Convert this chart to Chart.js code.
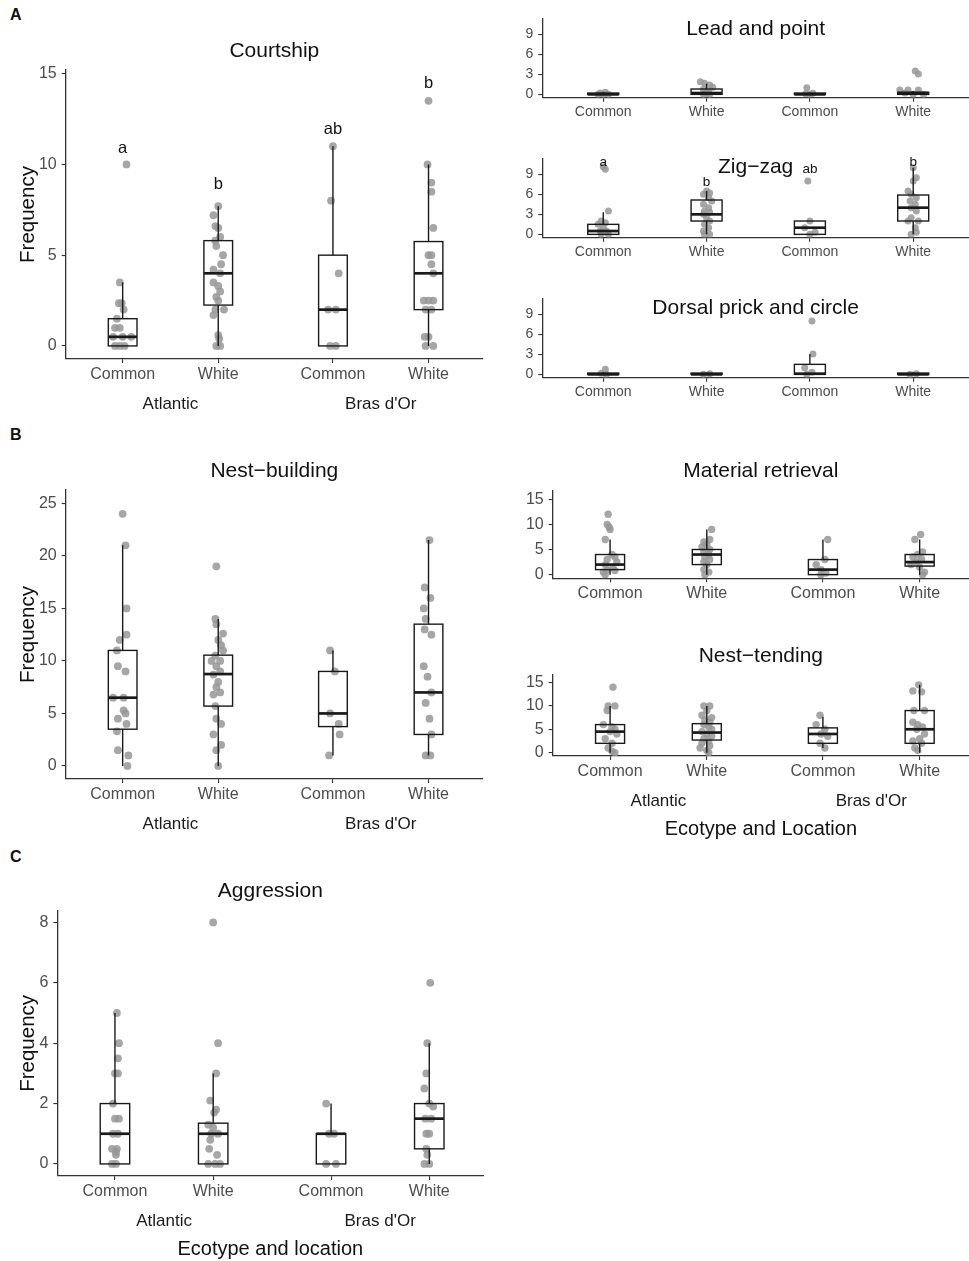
<!DOCTYPE html>
<html>
<head>
<meta charset="utf-8">
<script src="https://cdn.jsdelivr.net/npm/chart.js@4.4.0/dist/chart.umd.min.js"></script>
<style>
  body { margin: 0; background: #fff; width: 969px; height: 1261px; position: relative; overflow: hidden;
         font-family: 'Liberation Sans', Arial, sans-serif; }
  canvas { position: absolute; }
  .tag { position: absolute; font-weight: bold; font-size: 16px; color: #111; }
</style>
</head>
<body>
<div class="tag" style="left:10px;top:6px">A</div>
<div class="tag" style="left:10px;top:426px">B</div>
<div class="tag" style="left:10px;top:848px">C</div>

<canvas id="courtship"></canvas>
<canvas id="lead"></canvas>
<canvas id="zigzag"></canvas>
<canvas id="dorsal"></canvas>
<canvas id="nestbuilding"></canvas>
<canvas id="material"></canvas>
<canvas id="tending"></canvas>
<canvas id="aggression"></canvas>

<script>
// categories shared by every panel
const categories = ['Common', 'White', 'Common', 'White'];
const locations = ['Atlantic', "Bras d'Or"];

// box stats per group: [whisker low, q1, median, q3, whisker high]
// points per group: [jitter, value]

// --- Courtship
const courtshipTicks = [0, 5, 10, 15];
const courtshipBoxes = [[0, 0, 0.5, 1.5, 3.5], [0, 2.25, 4, 5.8, 7.7], [0, 0, 2, 5, 11], [0, 2, 4, 5.75, 10]];
const courtshipPoints = [
  [[0.04, 10], [-0.03, 3.5], [-0.04, 2.35], [-0.01, 2.35], [0.01, 2], [-0.06, 1.5], [-0.08, 1], [-0.03, 1],
   [-0.1, 0.5], [0, 0.5], [0.09, 0.5], [-0.08, 0], [-0.03, 0], [0.02, 0]],
  [[0, 7.7], [-0.05, 7.2], [-0.03, 6.6], [0, 6.5], [0.02, 6], [-0.03, 5.8], [-0.02, 5.5], [0.05, 5], [0.03, 4.5],
   [-0.05, 4.2], [0.02, 4], [-0.05, 3.5], [0, 3.3], [0.02, 3], [-0.02, 2.7], [0, 2.5], [-0.03, 2], [0.06, 2],
   [-0.05, 1.7], [0, 0.6], [0.01, 0.4], [-0.02, 0], [0.02, 0]],
  [[0, 11], [-0.02, 8], [0.06, 4], [-0.05, 2], [0.03, 2], [-0.03, 0], [0.03, 0]],
  [[0, 13.5], [-0.01, 10], [0.03, 9], [0.03, 8.5], [0.05, 6.5], [0, 5], [0.03, 5], [0.03, 4.5], [0.05, 4],
   [-0.05, 2.5], [0, 2.5], [0.05, 2.5], [-0.03, 2], [0.03, 2], [-0.04, 0.5], [0, 0.5], [-0.03, 0], [0.05, 0]]
];
const courtshipLetters = ['a', 'b', 'ab', 'b'];
const courtshipLetterY = [10.9, 8.9, 11.95, 14.45];

// --- Lead and point
const smallTicks = [0, 3, 6, 9];
const leadBoxes = [[0, 0, 0, 0.2, 0.3], [0, 0, 0.2, 0.8, 1.6], [0, 0, 0, 0.2, 0.3], [0, 0, 0.2, 0.3, 0.5]];
const leadPoints = [
  [[-0.05, 0], [0, 0], [0.05, 0], [0.02, 0.3], [-0.03, 0.2]],
  [[-0.06, 1.9], [-0.02, 1.65], [0.03, 1.4], [0.06, 1.05], [-0.03, 0.75], [0.02, 0.4], [-0.03, 0], [0.03, 0], [0, 0.15]],
  [[-0.03, 1], [0, 0], [0.03, 0.15], [-0.04, 0.1]],
  [[0.02, 3.5], [0.05, 3.05], [-0.13, 0.65], [-0.05, 0.65], [0.05, 0.65], [0, 0], [0.1, 0], [-0.08, 0.2]]
];

// --- Zig-zag
const zigBoxes = [[0, 0, 0.5, 1.5, 3.3], [0, 2, 3, 5.15, 6.5], [0, 0, 1, 2, 2], [0, 2, 4, 5.9, 10]];
const zigPoints = [
  [[0, 10.15], [0.02, 9.75], [0.05, 3.5], [-0.02, 2], [0.02, 1.75], [-0.05, 1.5], [0, 1], [-0.03, 0.5], [0.03, 0.5],
   [-0.02, 0], [0.05, 0]],
  [[0, 6.5], [0.03, 6.2], [-0.03, 6], [0.02, 5.5], [0.05, 5], [-0.03, 4.5], [0.02, 4], [-0.02, 3.5], [0.03, 3.3],
   [-0.03, 3], [0, 2.5], [0.03, 2], [-0.02, 1.5], [0.02, 1], [-0.03, 0.5], [-0.02, 0], [0.03, 0]],
  [[-0.02, 8], [0, 2], [-0.05, 1], [0.05, 0.3], [0, 0]],
  [[0, 10], [0.03, 8.5], [0, 8], [-0.05, 6.5], [-0.02, 6], [0.03, 5.5], [-0.03, 5], [0.02, 4.5], [-0.02, 4],
   [0.03, 3.5], [-0.02, 2.5], [-0.05, 2], [0.05, 2], [0.02, 1], [0.03, 0.3], [-0.02, 0]]
];
const zigLetters = ['a', 'b', 'ab', 'b'];
const zigLetterY = [10.75, 7.75, 9.75, 10.75];

// --- Dorsal prick and circle
const dorsalBoxes = [[0, 0, 0, 0.2, 0.3], [0, 0, 0, 0.2, 0.3], [0, 0, 0.1, 1.5, 3], [0, 0, 0, 0.2, 0.3]];
const dorsalPoints = [
  [[0.02, 0.75], [-0.02, 0.15], [0.03, 0]],
  [[-0.03, 0], [0.03, 0.1]],
  [[0.02, 8], [0.03, 3.05], [-0.05, 1], [0.02, 0.3], [-0.03, 0]],
  [[-0.03, 0], [0.03, 0.1]]
];

// --- Nest-building
const nestTicks = [0, 5, 10, 15, 20, 25];
const nestBoxes = [[0, 3.5, 6.5, 11, 21], [0, 5.7, 8.75, 10.55, 14], [1, 3.75, 5, 9, 11], [1, 3, 7, 13.5, 21.5]];
const nestPoints = [
  [[0, 24], [0.03, 21], [0.04, 15], [0.04, 12.5], [-0.03, 12], [-0.06, 11], [-0.05, 9.5], [0.03, 9], [-0.1, 6.5],
   [0.01, 6.5], [0.01, 5.3], [0.03, 5], [-0.05, 4.5], [0.04, 4], [-0.06, 3.3], [-0.05, 1.5], [0.06, 1], [0.05, 0]],
  [[-0.02, 19], [-0.03, 14], [-0.02, 13.5], [0.05, 12.6], [0, 12], [0.03, 11.5], [0.05, 11], [-0.03, 10.5],
   [-0.07, 10], [0.02, 10], [-0.02, 9.5], [0.02, 9], [-0.05, 8.7], [0, 8], [-0.02, 7.5], [0.02, 7], [-0.05, 6.8],
   [-0.03, 5.7], [-0.02, 4.5], [0.03, 4], [-0.05, 3], [0.03, 2], [-0.02, 1.5], [0, 0]],
  [[-0.03, 11], [0.02, 9], [-0.03, 5], [0.06, 4], [0.07, 3], [-0.04, 1]],
  [[0.01, 21.5], [-0.04, 17], [0.02, 16], [-0.05, 15], [-0.03, 14], [-0.04, 13], [0.03, 12.5], [-0.05, 9.5],
   [-0.01, 8.5], [0.03, 7], [-0.03, 6], [0.01, 4.5], [0.03, 3], [-0.03, 1], [0.02, 1]]
];

// --- Material retrieval
const midTicks = [0, 5, 10, 15];
const materialBoxes = [[0, 1, 2, 4, 7], [0, 2, 4, 5, 9], [0, 0, 1, 3, 7], [0, 1.7, 2.5, 4, 7]];
const materialPoints = [
  [[-0.02, 12], [-0.03, 10], [-0.01, 9.5], [0, 9], [-0.05, 7], [0.02, 4], [0.05, 3.5], [-0.03, 3], [0.07, 2.5],
   [-0.05, 2], [0.03, 1.5], [-0.03, 1], [0.05, 0.8], [-0.07, 0.5], [-0.05, 0]],
  [[0.05, 9], [0.03, 7], [-0.03, 6.5], [0, 6], [-0.05, 5.5], [0.03, 5], [-0.03, 4.5], [0.02, 4], [-0.02, 3.5],
   [0.03, 3], [-0.03, 2.5], [0, 2], [-0.03, 1], [0.02, 0.5], [-0.02, 0]],
  [[0.05, 7], [0.02, 3], [-0.07, 2], [-0.02, 1], [0.03, 0.3], [-0.02, 0]],
  [[0.01, 8], [-0.05, 7], [0.03, 4.5], [-0.02, 4], [-0.07, 3.5], [0.02, 3], [-0.03, 2.5], [-0.09, 2], [0, 1.5],
   [0.05, 0.5], [0.03, 0]]
];

// --- Nest-tending
const tendingBoxes = [[0, 2, 4.5, 6, 10], [0, 2.7, 4.3, 6.2, 10], [1, 2, 4, 5.3, 7.7], [0, 2, 5, 9, 14.5]];
const tendingPoints = [
  [[0.03, 14], [0.05, 10], [-0.02, 10], [-0.03, 9], [-0.07, 6], [0.02, 5.5], [0.05, 5], [0, 4.5], [0.07, 4],
   [-0.05, 3], [0.02, 2], [-0.02, 1], [0.02, 0.3], [0.05, 0]],
  [[-0.03, 10], [0.03, 10], [0, 9], [-0.05, 8], [0.05, 7.5], [-0.02, 7], [0.03, 6.5], [-0.03, 6], [0.02, 5.5],
   [0.05, 5], [-0.05, 4.5], [0, 4], [0.05, 3.5], [-0.03, 3], [0.02, 2.5], [-0.05, 2], [0.03, 1.5], [-0.07, 1],
   [0, 0.5], [0.02, 0]],
  [[-0.03, 8], [-0.07, 6], [0.02, 5], [-0.02, 4], [0.05, 3.5], [-0.03, 2], [0.02, 1]],
  [[-0.01, 14.5], [-0.07, 13.2], [0.02, 13], [0.05, 9], [-0.06, 9], [-0.07, 6.5], [-0.02, 6], [0.03, 5.5],
   [-0.03, 5], [0.05, 4], [0, 3], [-0.07, 2.5], [0.02, 2], [-0.05, 1], [-0.02, 0.5]]
];

// --- Aggression
const aggressionTicks = [0, 2, 4, 6, 8];
const aggressionBoxes = [[0, 0, 1, 2, 5], [0, 0, 1, 1.35, 3], [0, 0, 1, 1, 2], [0, 0.5, 1.5, 2, 4]];
const aggressionPoints = [
  [[0.02, 5], [0.04, 4], [0.03, 3.5], [0, 3], [0.03, 3], [-0.02, 2], [0, 1.5], [0.04, 1.5], [-0.02, 1], [0.03, 1],
   [-0.03, 0.5], [0.02, 0.5], [0.01, 0.4], [0.01, 0.3], [-0.03, 0], [0.01, 0]],
  [[0, 8], [0.05, 4], [0.03, 3], [-0.03, 2.1], [0.03, 1.8], [0.01, 1.7], [-0.05, 1.3], [0, 1.2], [0.05, 1],
   [-0.02, 1], [-0.03, 0.8], [-0.04, 0.5], [0.04, 0.3], [-0.05, 0], [0.02, 0], [0.07, 0]],
  [[-0.05, 2], [-0.02, 1], [0.03, 1], [-0.05, 0], [0.05, 0]],
  [[0.01, 6], [-0.02, 4], [-0.03, 3], [-0.05, 2.5], [0, 2], [0.04, 1.9], [-0.04, 1.5], [0.02, 1.5], [-0.03, 1],
   [0, 1], [-0.03, 0.5], [-0.02, 0.3], [-0.05, 0], [0, 0]]
];

// layout of each panel (page pixels), kept apart from the data
const splitPos = [1, 2, 3.2, 4.2];
const evenPos = [1, 2, 3, 4];

const panels = [
  { id: 'courtship', title: 'Courtship', left: 0, top: 30, width: 490, height: 400, area: [65.7, 70, 483, 359],
    x: [0.404, 4.77], y: [-0.72, 15.2], pos: splitPos, ticks: courtshipTicks, boxes: courtshipBoxes,
    points: courtshipPoints, letters: courtshipLetters, letterY: courtshipLetterY, letterFont: 16.5,
    tickFont: 16, dot: 3.9, titleY: 51.5, groups: true, yTitle: 'Frequency' },
  { id: 'lead', title: 'Lead and point', left: 490, top: 0, width: 479, height: 140, area: [542.3, 18.3, 969, 97.7],
    x: [0.41, 4.54], y: [-0.5, 11.4], pos: evenPos, ticks: smallTicks, boxes: leadBoxes, points: leadPoints,
    tickFont: 14, dot: 3.5, titleY: 29 },
  { id: 'zigzag', title: 'Zig\u2212zag', left: 490, top: 140, width: 479, height: 140, area: [542.3, 158.3, 969, 237.7],
    x: [0.41, 4.54], y: [-0.5, 11.4], pos: evenPos, ticks: smallTicks, boxes: zigBoxes, points: zigPoints,
    letters: zigLetters, letterY: zigLetterY, letterFont: 13.5, tickFont: 14, dot: 3.5, titleY: 167 },
  { id: 'dorsal', title: 'Dorsal prick and circle', left: 490, top: 280, width: 479, height: 140,
    area: [542.3, 298.3, 969, 377.7], x: [0.41, 4.54], y: [-0.5, 11.4], pos: evenPos, ticks: smallTicks,
    boxes: dorsalBoxes, points: dorsalPoints, tickFont: 14, dot: 3.5, titleY: 308.7 },
  { id: 'nestbuilding', title: 'Nest\u2212building', left: 0, top: 440, width: 490, height: 400,
    area: [65.7, 490, 483, 779], x: [0.404, 4.77], y: [-1.24, 26.27], pos: splitPos, ticks: nestTicks,
    boxes: nestBoxes, points: nestPoints, tickFont: 16, dot: 3.9, titleY: 471.7, groups: true, yTitle: 'Frequency' },
  { id: 'material', title: 'Material retrieval', left: 490, top: 440, width: 479, height: 180,
    area: [552.7, 490.7, 969, 578.3], x: [0.407, 4.71], y: [-0.73, 16.7], pos: splitPos, ticks: midTicks,
    boxes: materialBoxes, points: materialPoints, tickFont: 16, dot: 3.7, titleY: 471.7 },
  { id: 'tending', title: 'Nest\u2212tending', left: 490, top: 620, width: 479, height: 230,
    area: [552.7, 675, 969, 756], x: [0.407, 4.71], y: [-0.71, 16.6], pos: splitPos, ticks: midTicks,
    boxes: tendingBoxes, points: tendingPoints, tickFont: 16, dot: 3.7, titleY: 656.3, groups: true,
    xTitle: 'Ecotype and Location' },
  { id: 'aggression', title: 'Aggression', left: 0, top: 860, width: 490, height: 401,
    area: [57.3, 910.7, 483.3, 1176], x: [0.413, 4.75], y: [-0.4, 8.39], pos: splitPos, ticks: aggressionTicks,
    boxes: aggressionBoxes, points: aggressionPoints, tickFont: 16, dot: 3.9, titleY: 890.8, groups: true,
    xTitle: 'Ecotype and location', yTitle: 'Frequency' }
];

const FONT = "'Liberation Sans', Arial, sans-serif";
Chart.defaults.font.family = FONT;

function overlay(p) {
  return {
    id: 'overlay_' + p.id,
    afterDatasetsDraw(chart) {
      const { ctx, scales: { x, y } } = chart;
      ctx.save();
      ctx.strokeStyle = '#1a1a1a';
      p.boxes.forEach((b, i) => {
        const cx = x.getPixelForValue(p.pos[i]);
        const hw = x.getPixelForValue(p.pos[i] + 0.15) - cx;
        const [lo, q1, med, q3, hi] = b.map(v => y.getPixelForValue(v));
        ctx.lineWidth = 1.4;
        ctx.beginPath();
        ctx.moveTo(cx, q3); ctx.lineTo(cx, hi);
        ctx.moveTo(cx, q1); ctx.lineTo(cx, lo);
        ctx.stroke();
        ctx.strokeRect(cx - hw, q3, 2 * hw, q1 - q3);
        ctx.lineWidth = 2.7;
        ctx.beginPath();
        ctx.moveTo(cx - hw, med); ctx.lineTo(cx + hw, med);
        ctx.stroke();
      });
      if (p.letters) {
        ctx.fillStyle = '#111';
        ctx.font = p.letterFont + 'px ' + FONT;
        ctx.textAlign = 'center';
        ctx.textBaseline = 'middle';
        p.letters.forEach((t, i) => {
          ctx.fillText(t, x.getPixelForValue(p.pos[i]), y.getPixelForValue(p.letterY[i]));
        });
      }
      ctx.restore();
    },
    afterDraw(chart) {
      const { ctx, chartArea: a, scales: { x } } = chart;
      ctx.save();
      ctx.textAlign = 'center';
      ctx.textBaseline = 'middle';
      ctx.fillStyle = '#111';
      ctx.font = '21px ' + FONT;
      ctx.fillText(p.title, (a.left + a.right) / 2, p.titleY - p.top);
      if (p.groups) {
        ctx.font = '17px ' + FONT;
        ctx.fillStyle = '#1a1a1a';
        locations.forEach((loc, g) => {
          const cx = (x.getPixelForValue(p.pos[2 * g]) + x.getPixelForValue(p.pos[2 * g + 1])) / 2;
          ctx.fillText(loc, cx, a.bottom + 45.5);
        });
      }
      if (p.xTitle) {
        ctx.font = '20px ' + FONT;
        ctx.fillStyle = '#111';
        ctx.fillText(p.xTitle, (a.left + a.right) / 2, a.bottom + 73.3);
      }
      if (p.yTitle) {
        ctx.font = '20.5px ' + FONT;
        ctx.fillStyle = '#111';
        ctx.translate(28.6 - p.left, (a.top + a.bottom) / 2);
        ctx.rotate(-Math.PI / 2);
        ctx.fillText(p.yTitle, 0, 0);
      }
      ctx.restore();
    }
  };
}

function buildPanel(p) {
  const canvas = document.getElementById(p.id);
  canvas.width = p.width;
  canvas.height = p.height;
  canvas.style.left = p.left + 'px';
  canvas.style.top = p.top + 'px';
  const [al, at, ar, ab] = p.area;
  const yAxisWidth = al - p.left;
  const xAxisHeight = p.top + p.height - ab;

  const datasets = p.points.map((grp, i) => ({
    data: grp.map(([dx, v]) => ({ x: p.pos[i] + dx, y: v })),
    backgroundColor: 'rgba(150,150,150,0.85)',
    borderWidth: 0,
    pointRadius: p.dot,
    pointHoverRadius: p.dot
  }));

  new Chart(canvas, {
    type: 'scatter',
    data: { datasets },
    options: {
      responsive: false,
      animation: false,
      events: [],
      layout: { autoPadding: false, padding: { top: at - p.top, right: p.left + p.width - ar, left: 0, bottom: 0 } },
      plugins: { legend: { display: false }, tooltip: { enabled: false } },
      scales: {
        x: {
          type: 'linear', min: p.x[0], max: p.x[1],
          afterBuildTicks: s => { s.ticks = p.pos.map(v => ({ value: v })); },
          afterFit: s => { s.height = xAxisHeight; },
          ticks: { callback: (v, i) => categories[i], autoSkip: false, maxRotation: 0, minRotation: 0,
                   padding: 2, color: '#4d4d4d', font: { size: p.tickFont } },
          grid: { drawOnChartArea: false, drawTicks: true, tickLength: 4, color: '#333', lineWidth: 1.1 },
          border: { display: true, color: '#333', width: 1.3 }
        },
        y: {
          type: 'linear', min: p.y[0], max: p.y[1],
          afterBuildTicks: s => { s.ticks = p.ticks.map(v => ({ value: v })); },
          afterFit: s => { s.width = yAxisWidth; },
          ticks: { callback: v => String(v), autoSkip: false, padding: 5, color: '#4d4d4d',
                   font: { size: p.tickFont } },
          grid: { drawOnChartArea: false, drawTicks: true, tickLength: 4, color: '#333', lineWidth: 1.1 },
          border: { display: true, color: '#333', width: 1.3 }
        }
      }
    },
    plugins: [overlay(p)]
  });
}

panels.forEach(buildPanel);
</script>
</body>
</html>
